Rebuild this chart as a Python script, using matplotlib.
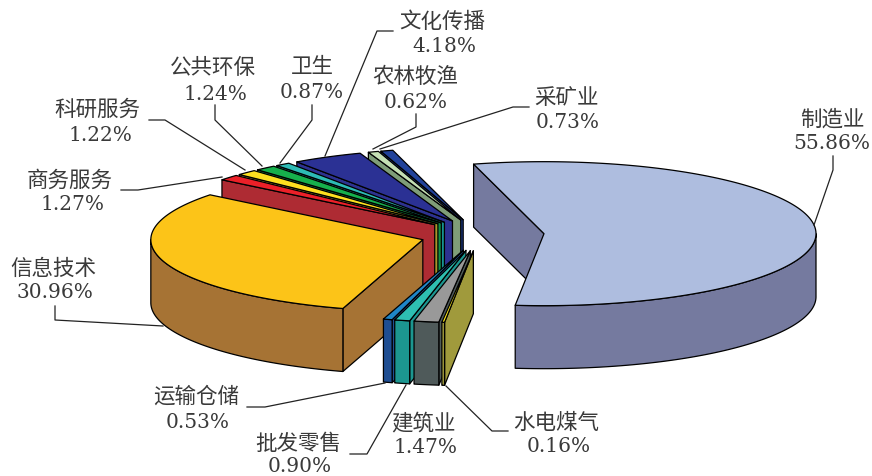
#!/usr/bin/env python3
import numpy as np
import matplotlib
matplotlib.use("Agg")
import matplotlib.pyplot as plt
from matplotlib.patches import Polygon

names = ["制造业", "水电煤气", "建筑业", "批发零售", "运输仓储", "信息技术", "商务服务",
         "科研服务", "公共环保", "卫生", "文化传播", "农林牧渔", "采矿业"]
shares = [55.86, 0.16, 1.47, 0.90, 0.53, 30.96, 1.27, 1.22, 1.24, 0.87, 4.18, 0.62, 0.73]

top_colors = ["#AEBDDF", "#FFEC1C", "#999999", "#2EBFB2", "#1F86C8", "#FCC418", "#EC2028",
              "#FDE020", "#16B04C", "#2DBBB5", "#2B3194", "#C5E0B4", "#21429A"]
wall_colors = ["#757A9F", "#A09A3C", "#4F5A5A", "#1C9690", "#1F4E92", "#A67334", "#AE2B33",
               "#A8962A", "#0F8F45", "#17928F", "#2D3290", "#7F9D78", "#1E3C8C"]

# label centre x, name y, value y
label_x = [832, 556, 423, 298, 196, 53, 70, 97, 213, 312, 442, 415, 567]
label_y = [120, 423, 423, 444, 397, 269, 181, 110, 68, 67, 22, 77, 98]
value_x = [832, 559, 425, 300, 198, 55, 72, 100, 215, 312, 444, 416, 568]
value_y = [144, 447, 448, 467, 423, 293, 205, 136, 94, 92, 47, 102, 123]

# leader lines, same order as names (None = no leader)
leaders = [
    [(833, 157), (833, 171), (814, 226)],
    [(508, 432), (492, 432), (446, 387)],
    None,
    [(350, 455), (367, 455), (406, 386)],
    [(247, 408), (265, 408), (385, 384)],
    [(55, 307), (55, 321), (163, 327)],
    [(121, 191), (138, 191), (222, 178)],
    [(149, 121), (165, 121), (245, 171)],
    [(215, 106), (215, 121), (262, 167)],
    [(312, 106), (312, 121), (280, 164)],
    [(393, 32), (377, 32), (325, 157)],
    [(416, 115), (416, 128), (373, 150)],
    [(529, 108), (513, 108), (380, 150)],
]

CX, CY = 480, 236
RX, RY = 272, 72
DEPTH = 63
EXPLODE = 0.22
EXPLODE_BIG = 0.236
START = 105.0
LW = 0.9


def ring(apex, a1, a2, n=200):
    """Points on the rim going from angle a1 to a2 (degrees, y axis points down)."""
    t = np.radians(np.linspace(a1, a2, n))
    return np.column_stack([apex[0] + RX * np.cos(t), apex[1] - RY * np.sin(t)])


def draw_slice(ax, a1, a2, top, wall, z, explode):
    mid = np.radians((a1 + a2) / 2)
    apex = (CX + explode * RX * np.cos(mid), CY - explode * RY * np.sin(mid))
    kw = dict(edgecolor="black", linewidth=LW, joinstyle="round", zorder=z)

    # the cut on the leading edge faces the viewer for every slice here
    edge = ring(apex, a1, a1, 1)[0]
    cut = [apex, edge, (edge[0], edge[1] + DEPTH), (apex[0], apex[1] + DEPTH)]
    ax.add_patch(Polygon(cut, closed=True, facecolor=wall, **kw))

    # outer wall, front half only
    lo, hi = max(a2, 180), min(a1, 360)
    if lo < hi:
        rim = ring(apex, lo, hi)
        pts = np.vstack([rim, rim[::-1] + [0, DEPTH]])
        ax.add_patch(Polygon(pts, closed=True, facecolor=wall, **kw))

    pts = np.vstack([[apex], ring(apex, a1, a2)])
    ax.add_patch(Polygon(pts, closed=True, facecolor=top, **kw))


def main():
    fig = plt.figure(figsize=(8.72, 4.77), dpi=100, facecolor="white")
    ax = fig.add_axes([0, 0, 1, 1])
    ax.set_xlim(0, 872)
    ax.set_ylim(477, 0)
    ax.axis("off")

    sweep = np.array(shares) / sum(shares) * 360
    ends = START - np.cumsum(sweep) + 360
    starts = ends + sweep

    # back slices first, then info tech, then the small front fan
    order = [12, 11, 10, 9, 8, 7, 6, 5, 4, 3, 2, 1, 0]
    for z, i in enumerate(order):
        explode = EXPLODE_BIG if i == 0 else EXPLODE
        draw_slice(ax, starts[i], ends[i], top_colors[i], wall_colors[i], z, explode)

    for i, name in enumerate(names):
        ax.text(label_x[i], label_y[i], name, family=["Noto Sans CJK SC", "DejaVu Sans"],
                fontsize=15.5, color="#3a3a3a", ha="center", va="center", zorder=50)
        ax.text(value_x[i], value_y[i], f"{shares[i]:.2f}%", family="DejaVu Serif",
                fontsize=14.5, color="#3a3a3a", ha="center", va="center", zorder=50)
        if leaders[i]:
            xs, ys = zip(*leaders[i])
            ax.plot(xs, ys, color="#222222", linewidth=0.9, zorder=40)

    fig.savefig("out.png", dpi=100, facecolor="white")


if __name__ == "__main__":
    main()
